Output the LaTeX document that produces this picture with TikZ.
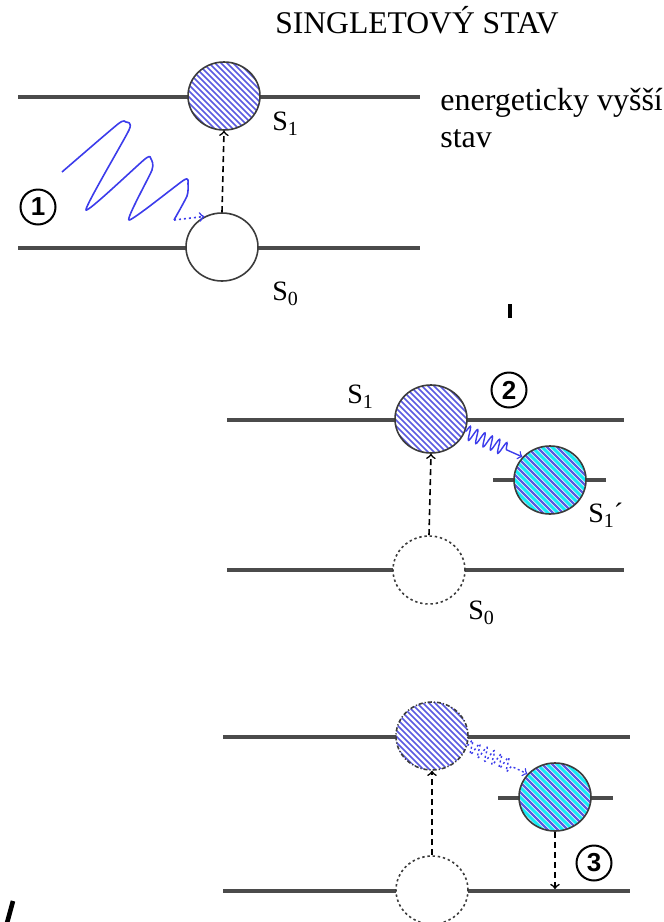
\documentclass[tikz,border=0pt]{standalone}
\usepackage{fontspec}
\setmainfont{Liberation Serif}
\setsansfont{Liberation Sans}
\usetikzlibrary{shapes.geometric,decorations.pathmorphing}

\definecolor{levelgray}{RGB}{75,75,75}
\definecolor{rimgray}{RGB}{60,60,60}
\definecolor{hatchblue}{RGB}{90,90,225}
\definecolor{hatchcyan}{RGB}{20,235,245}
\definecolor{waveblue}{RGB}{60,60,235}

% label with lowered index
\newcommand{\stav}[2]{#1\raisebox{-0.45ex}{\fontsize{10}{10}\selectfont #2}}

\begin{document}
\begin{tikzpicture}[x=0.5pt,y=-0.5pt,
	level/.style={draw=levelgray, line width=1.6pt},
	orb/.style={ellipse, minimum width=36pt, minimum height=34pt, inner sep=0pt, fill=white, draw=rimgray, line width=0.8pt},
	ground/.style={orb},
	groundfaint/.style={orb, dash pattern=on 1.2pt off 1.4pt},
	excited/.style={orb, path picture={
		\foreach \t in {-45,-42,...,45}
			\draw[hatchblue, solid, line width=0.85pt] ([shift={({\t*1pt-20pt},20pt)}]path picture bounding box.center) -- ++(40pt,-40pt);}},
	excitedfaint/.style={excited, dash pattern=on 2pt off 1pt on 0.6pt off 1pt},
	relaxed/.style={orb, path picture={
		\foreach \t in {-45,-40,...,45} {
			\draw[hatchblue, solid, line width=1.1pt] ([shift={({\t*1pt-20pt},20pt)}]path picture bounding box.center) -- ++(40pt,-40pt);
			\draw[hatchcyan, solid, line width=1.5pt] ([shift={({\t*1pt-17.5pt},20pt)}]path picture bounding box.center) -- ++(40pt,-40pt);}}},
	excite/.style={->, dash pattern=on 3pt off 2pt, line width=0.8pt},
	photon/.style={draw=waveblue, line width=0.8pt, line join=round},
	zig/.style={draw=waveblue, line width=0.7pt, ->, decorate, decoration={snake, amplitude=3.4pt, segment length=4pt, post length=7pt}},
	num/.style={circle, draw, line width=1pt, minimum size=17.5pt, inner sep=0pt, font=\fontsize{13}{13}\selectfont\sffamily\bfseries},
	txt/.style={font=\fontsize{14}{16}\selectfont, inner sep=0pt}
	]
	\useasboundingbox (0,0) rectangle (664,922);

	%Panel 1
	\node (title) at (417,33) [anchor=base, inner sep=0pt, font=\fontsize{15.8}{18}\selectfont] {SINGLETOVÝ STAV};
	\draw[level] (18,97) -- (420,97);
	\draw[level] (18,248) -- (420,248);
	\node (s1a) at (224,96) [excited] {};
	\node (s0a) at (222,247) [ground] {};
	\draw[excite] (s0a.north) -- (s1a.south);
	\node (s1alab) at (272,130) [txt, anchor=base west] {\stav{S}{1}};
	\node (s0alab) at (272,300) [txt, anchor=base west] {\stav{S}{0}};
	\node (popis) at (440,110) [anchor=base west, inner sep=0pt, font=\fontsize{16}{18}\selectfont] {energeticky vyšší};
	\node (popis2) at (440,147) [anchor=base west, inner sep=0pt, font=\fontsize{16}{18}\selectfont] {stav};
	\node (n1) at (38,207) [num] {1};
	% absorbed photon
	\draw[photon] plot[smooth, tension=0.35] coordinates {(62,172) (118,124) (126,122) (129,130) (86,210)
		(145,159) (151,159) (152,170) (129,220)
		(184,180) (188,184) (187,196) (174,220)};
	\draw[photon, ->, dash pattern=on 1pt off 1.5pt] (174,220) -- (s0a.120);
	\draw[line width=2pt] (510,304) -- (510,318);

	%Panel 2
	\draw[level] (227,420) -- (624,420);
	\draw[level] (227,570) -- (624,570);
	\draw[level] (493,480) -- (606,480);
	\node (s1b) at (431,419) [excited] {};
	\node (s1c) at (550,480) [relaxed] {};
	\node (s0b) at (429,570) [groundfaint] {};
	\draw[excite] (s0b.north) -- (s1b.south);
	\draw[zig] (s1b.-20) -- (s1c.140);
	\node (s1blab) at (347,403) [txt, anchor=base west] {\stav{S}{1}};
	\node (s1clab) at (588,522) [txt, anchor=base west] {\stav{S}{1}´};
	\node (s0blab) at (468,619) [txt, anchor=base west] {\stav{S}{0}};
	\node (n2) at (509,390) [num] {2};

	%Panel 3
	\draw[level] (223,737) -- (630,737);
	\draw[level] (223,891) -- (630,891);
	\draw[level] (498,798) -- (613,798);
	\node (s1e) at (432,736) [excitedfaint] {};
	\node (s1f) at (555,797) [relaxed] {};
	\node (s0e) at (432,890) [groundfaint] {};
	\coordinate (dolu) at (555,889);
	\draw[excite] (s0e.north) -- (s1e.south);
	\draw[zig, dash pattern=on 1pt off 1.3pt] (s1e.-15) -- (s1f.140);
	\draw[excite] (s1f.south) -- (dolu);
	\node (n3) at (594,863) [num] {3};
	\draw[line width=2.3pt] (13,901) -- (7,923);
\end{tikzpicture}
\end{document}
